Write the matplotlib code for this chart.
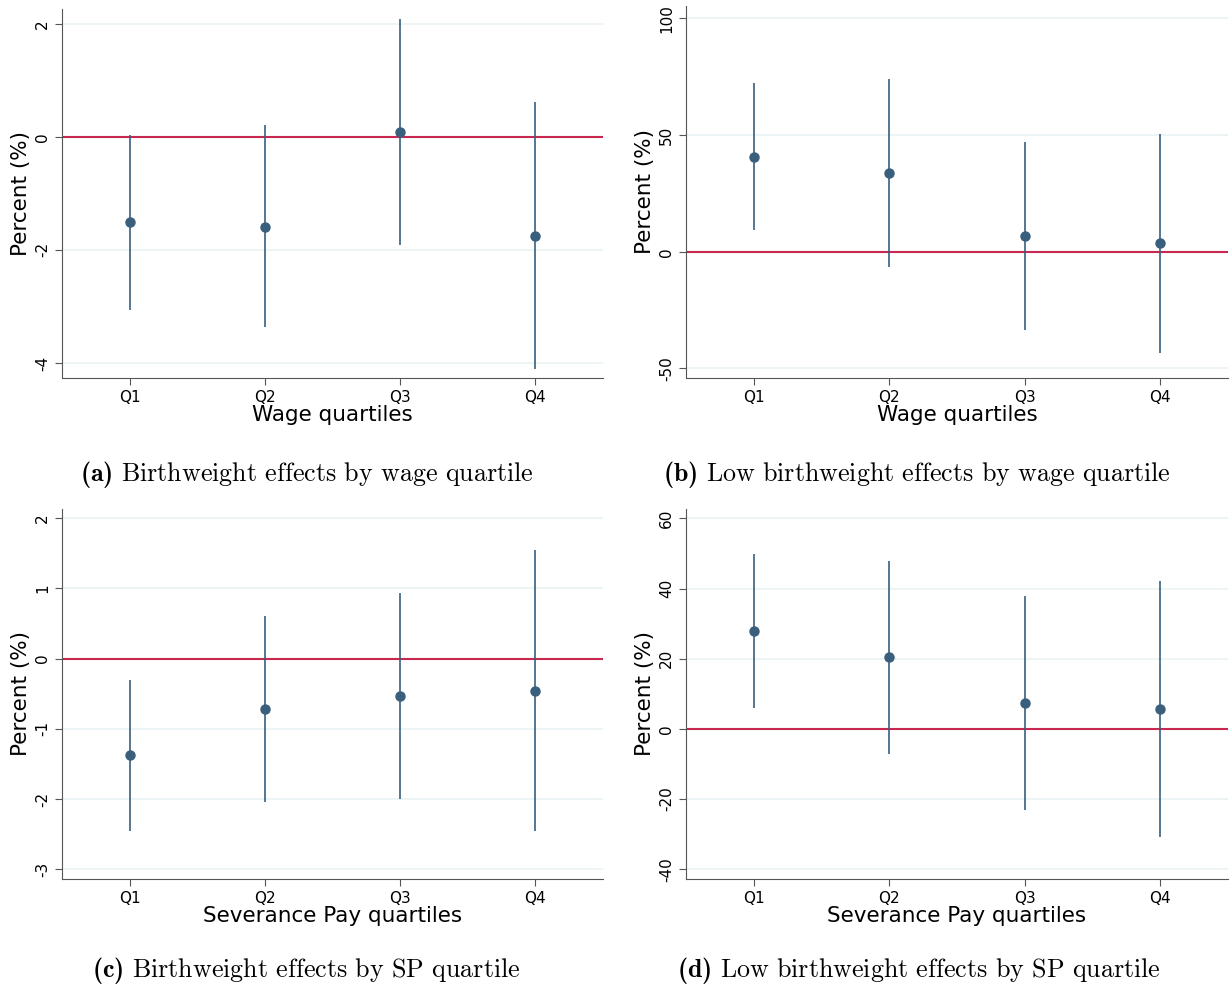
import matplotlib.pyplot as plt
import numpy as np

plt.rcParams['mathtext.fontset'] = 'custom'
plt.rcParams['mathtext.rm'] = 'cmr10'
plt.rcParams['mathtext.bf'] = 'cmb10'
plt.rcParams['axes.unicode_minus'] = False

quartiles = ["Q1", "Q2", "Q3", "Q4"]

# (a) birthweight by wage quartile
bw_wage = [-1.51, -1.59, 0.09, -1.75]
bw_wage_lo = [-3.07, -3.36, -1.91, -4.11]
bw_wage_hi = [0.04, 0.20, 2.09, 0.62]

# (b) low birthweight by wage quartile
lbw_wage = [40.7, 33.7, 6.9, 3.6]
lbw_wage_lo = [9.3, -6.7, -33.4, -43.2]
lbw_wage_hi = [72.1, 73.9, 47.1, 50.5]

# (c) birthweight by SP quartile
bw_sp = [-1.375, -0.72, -0.54, -0.46]
bw_sp_lo = [-2.45, -2.04, -2.00, -2.45]
bw_sp_hi = [-0.30, 0.60, 0.93, 1.54]

# (d) low birthweight by SP quartile
lbw_sp = [28.0, 20.4, 7.4, 5.7]
lbw_sp_lo = [6.0, -7.1, -23.0, -30.7]
lbw_sp_hi = [50.0, 48.0, 37.9, 42.2]

W, H = 1231, 990
fig = plt.figure(figsize=(W / 100, H / 100), dpi=100)

def box(l, t, r, b):
    return [l / W, 1 - b / H, (r - l) / W, (b - t) / H]

panels = [
    (box(62, 9, 603, 378), bw_wage, bw_wage_lo, bw_wage_hi, (-4.265, 2.26), [-4, -2, 0, 2],
     "Wage quartiles", r"$\mathbf{(a)}\ \mathrm{Birthweight\ effects\ by\ wage\ quartile}$", (307, 475)),
    (box(686, 6, 1228, 378), lbw_wage, lbw_wage_lo, lbw_wage_hi, (-54.1, 105.3), [-50, 0, 50, 100],
     "Wage quartiles", r"$\mathbf{(b)}\ \mathrm{Low\ birthweight\ effects\ by\ wage\ quartile}$", (917, 475)),
    (box(62, 509, 603, 879), bw_sp, bw_sp_lo, bw_sp_hi, (-3.14, 2.13), [-3, -2, -1, 0, 1, 2],
     "Severance Pay quartiles", r"$\mathbf{(c)}\ \mathrm{Birthweight\ effects\ by\ SP\ quartile}$", (306, 971)),
    (box(686, 509, 1228, 879), lbw_sp, lbw_sp_lo, lbw_sp_hi, (-42.8, 62.7), [-40, -20, 0, 20, 40, 60],
     "Severance Pay quartiles", r"$\mathbf{(d)}\ \mathrm{Low\ birthweight\ effects\ by\ SP\ quartile}$", (919, 971)),
]

x = np.arange(1, 5)
navy = "#3a5f7d"
red = "#c8284f"
spine = "#555555"

for rect, est, lo, hi, ylim, yticks, xlab, cap, cpos in panels:
    ax = fig.add_axes(rect)
    ax.set_xlim(0.5, 4.5)
    ax.set_ylim(*ylim)
    ax.set_yticks(yticks)
    ax.grid(axis='y', color="#eaf2f3", linewidth=1.2)
    ax.set_axisbelow(True)
    ax.axhline(0, color=red, linewidth=1.5, zorder=2)
    ax.vlines(x, lo, hi, color=navy, linewidth=1.2, zorder=3)
    ax.plot(x, est, 'o', color=navy, markersize=6.5, zorder=4)
    ax.set_xticks(x)
    ax.set_xticklabels(quartiles, fontsize=11)
    for lab in ax.get_yticklabels():
        lab.set_rotation(90)
        lab.set_va('center')
        lab.set_fontsize(11)
    ax.spines['top'].set_visible(False)
    ax.spines['right'].set_visible(False)
    ax.spines['left'].set_color(spine)
    ax.spines['bottom'].set_color(spine)
    ax.tick_params(colors=spine, labelcolor='black', length=5)
    ax.set_xlabel(xlab, fontsize=15.5, labelpad=0)
    ax.set_ylabel("Percent (%)", fontsize=15.5, labelpad=3)
    fig.text(cpos[0] / W, 1 - cpos[1] / H, cap, ha='center', va='center', fontsize=18.7)

fig.savefig("out.png", dpi=100)
